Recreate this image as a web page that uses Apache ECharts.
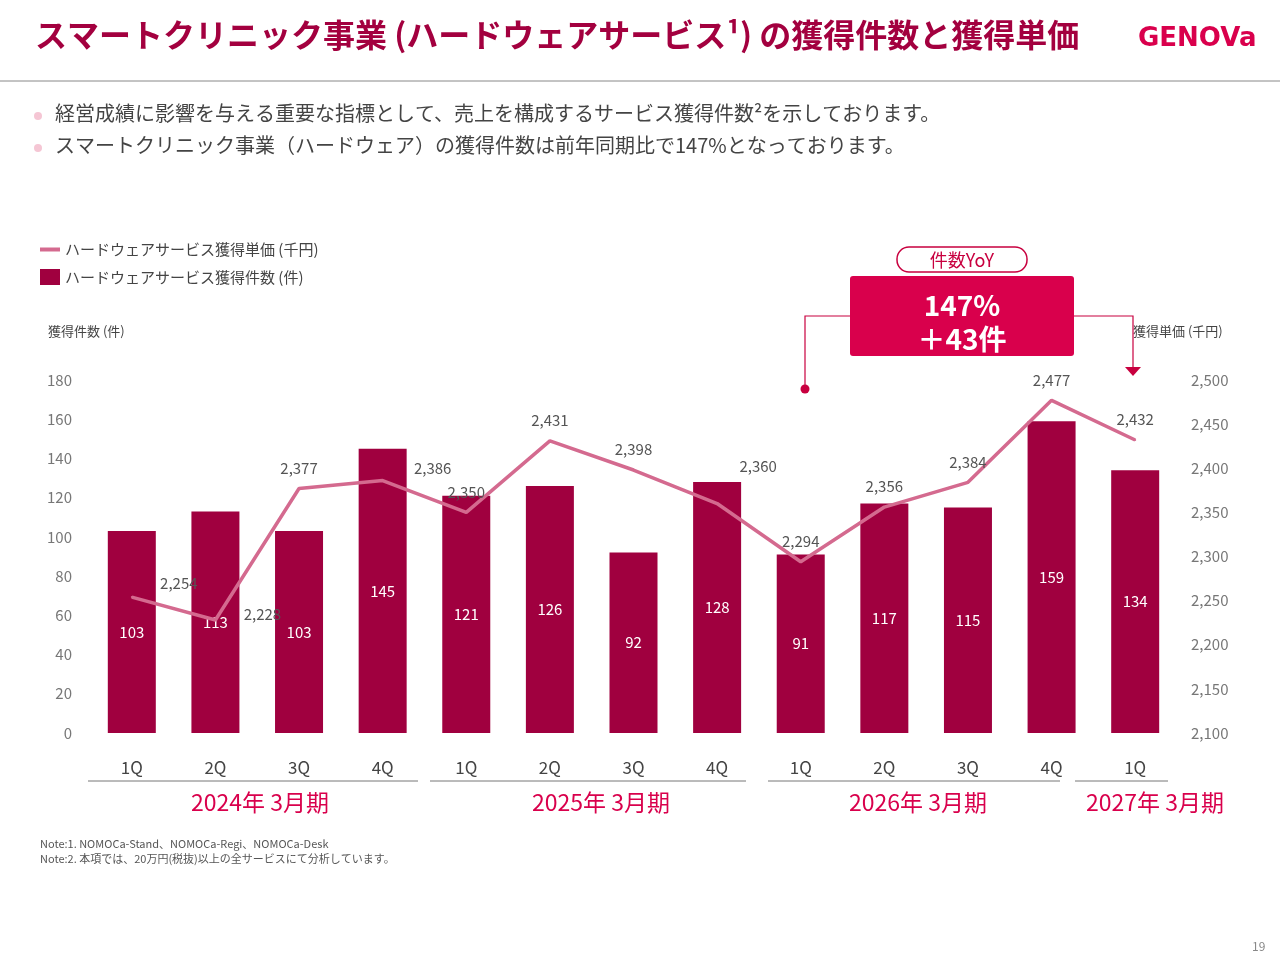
<!DOCTYPE html>
<html><head><meta charset="utf-8">
<script src="https://cdn.jsdelivr.net/npm/echarts@6/dist/echarts.min.js"></script>
<style>html,body{margin:0;padding:0;background:#fff}#c{width:1280px;height:960px}</style>
</head><body><div id="c"></div>
<script>
const categories=['1Q','2Q','3Q','4Q','1Q','2Q','3Q','4Q','1Q','2Q','3Q','4Q','1Q'];
const counts=[103,113,103,145,121,126,92,128,91,117,115,159,134];
const prices=[2254,2228,2377,2386,2350,2431,2398,2360,2294,2356,2384,2477,2432];
const leftTicks=[0,180,20];
const rightTicks=[2100,2500,50];
const fiscalYears=['2024年 3月期','2025年 3月期','2026年 3月期','2027年 3月期'];
const F='"Noto Sans CJK JP","Noto Sans",sans-serif';
const chart=echarts.init(document.getElementById('c'));
const yearSpans=[[88,418],[430,746],[768,1060],[1075,1168]];
const yearX=[260,601,918,1155];
const labelShift={0:[47,-14],1:[47,-6],3:[50,-12],7:[41,-37]};
const g=[
 {type:'text',left:35,top:19,style:{text:'スマートクリニック事業 (ハードウェアサービス¹) の獲得件数と獲得単価',font:'bold 32px '+F,fill:'#a3003f'}},
 {type:'text',left:1138,top:26,style:{text:'GENOVa',font:'bold 26px "DejaVu Sans",sans-serif',fill:'#d9004c'}},
 {type:'line',shape:{x1:0,y1:81,x2:1280,y2:81},style:{stroke:'#888',lineWidth:1}},
 {type:'circle',shape:{cx:38,cy:116,r:4},style:{fill:'#f5c6d4'}},
 {type:'circle',shape:{cx:38,cy:148,r:4},style:{fill:'#f5c6d4'}},
 {type:'text',left:55,top:103,style:{text:'経営成績に影響を与える重要な指標として、売上を構成するサービス獲得件数²を示しております。',font:'20px '+F,fill:'#444'}},
 {type:'text',left:55,top:135,style:{text:'スマートクリニック事業（ハードウェア）の獲得件数は前年同期比で147%となっております。',font:'20px '+F,fill:'#444'}},
 {type:'text',left:48,top:325,style:{text:'獲得件数 (件)',font:'13px '+F,fill:'#444'}},
 {type:'text',left:1133,top:325,style:{text:'獲得単価 (千円)',font:'13px '+F,fill:'#444'}},
 {type:'rect',shape:{x:850,y:276,width:224,height:80,r:3},style:{fill:'#d9004c'}},
 {type:'text',x:962,y:305,style:{text:'147%',font:'bold 28px '+F,fill:'#fff',align:'center',verticalAlign:'middle'}},
 {type:'text',x:962,y:339,style:{text:'＋43件',font:'bold 28px '+F,fill:'#fff',align:'center',verticalAlign:'middle'}},
 {type:'rect',shape:{x:897,y:247,width:130,height:25,r:12},style:{fill:'#fff',stroke:'#c8003f',lineWidth:1.5}},
 {type:'text',x:962,y:260,style:{text:'件数YoY',font:'18px '+F,fill:'#c8003f',align:'center',verticalAlign:'middle'}},
 {type:'polyline',shape:{points:[[805,388],[805,316],[850,316]]},style:{stroke:'#c8003f',lineWidth:1.2,fill:null}},
 {type:'circle',shape:{cx:805,cy:389,r:4.5},style:{fill:'#c8003f'}},
 {type:'polyline',shape:{points:[[1074,316],[1133,316],[1133,368]]},style:{stroke:'#c8003f',lineWidth:1.2,fill:null}},
 {type:'polygon',shape:{points:[[1125,367],[1141,367],[1133,376]]},style:{fill:'#c8003f'}},
 {type:'text',left:40,top:838,style:{text:'Note:1. NOMOCa-Stand、NOMOCa-Regi、NOMOCa-Desk',font:'11px '+F,fill:'#555'}},
 {type:'text',left:40,top:853,style:{text:'Note:2. 本項では、20万円(税抜)以上の全サービスにて分析しています。',font:'11px '+F,fill:'#555'}},
 {type:'text',left:1252,top:940,style:{text:'19',font:'12px '+F,fill:'#888'}}
];
yearSpans.forEach((s,i)=>{
 g.push({type:'line',shape:{x1:s[0],y1:781,x2:s[1],y2:781},style:{stroke:'#777',lineWidth:1}});
 g.push({type:'text',x:yearX[i],y:802,style:{text:fiscalYears[i],font:'23px '+F,fill:'#d9004c',align:'center',verticalAlign:'middle'}});
});
chart.setOption({
 animation:false,
 textStyle:{fontFamily:F},
 graphic:g,
 legend:{orient:'vertical',left:35,top:237,itemGap:12,itemWidth:20,itemHeight:16,
  textStyle:{fontSize:15,color:'#444',fontFamily:F},
  data:[{name:'ハードウェアサービス獲得単価 (千円)',icon:'path://M0,6H20V10H0Z',itemStyle:{color:'#d46a8f',opacity:1}},{name:'ハードウェアサービス獲得件数 (件)',icon:'rect'}]},
 grid:{left:90,right:103,top:380,bottom:227},
 xAxis:{type:'category',data:categories,axisLine:{show:false},axisTick:{show:false},
  axisLabel:{fontSize:17,color:'#444',margin:26}},
 yAxis:[
  {type:'value',min:leftTicks[0],max:leftTicks[1],interval:leftTicks[2],splitLine:{show:false},
   axisLabel:{fontSize:15,color:'#777',margin:18}},
  {type:'value',min:rightTicks[0],max:rightTicks[1],interval:rightTicks[2],splitLine:{show:false},
   axisLabel:{fontSize:15,color:'#777',margin:14,formatter:v=>v.toLocaleString('en-US')}}
 ],
 series:[
  {name:'ハードウェアサービス獲得件数 (件)',type:'bar',data:counts,barWidth:48,itemStyle:{color:'#a0003f'},
   label:{show:true,position:'inside',color:'#fff',fontSize:15}},
  {name:'ハードウェアサービス獲得単価 (千円)',type:'line',yAxisIndex:1,z:5,
   data:prices.map((v,i)=>labelShift[i]?{value:v,label:{position:[1+labelShift[i][0],1+labelShift[i][1]],align:'center',verticalAlign:'middle'}}:v),
   symbol:'circle',symbolSize:2,showSymbol:true,
   lineStyle:{color:'#d46a8f',width:3.5},itemStyle:{color:'#d46a8f',borderWidth:0},
   labelLayout:{hideOverlap:false},
   label:{show:true,position:'top',distance:12,color:'#555',opacity:1,fontSize:15,formatter:p=>p.value.toLocaleString('en-US')}}
 ]
});
</script></body></html>
